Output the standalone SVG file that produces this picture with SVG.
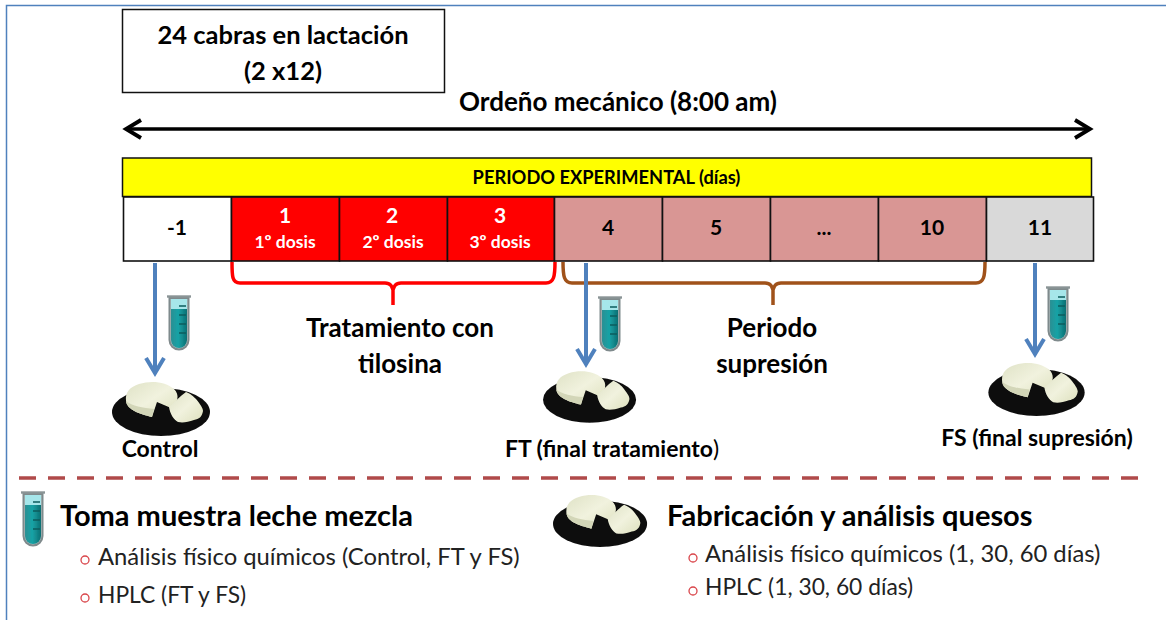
<svg xmlns="http://www.w3.org/2000/svg" xmlns:xlink="http://www.w3.org/1999/xlink" width="1166" height="620" viewBox="0 0 1166 620">
<style>
text{font-family:"Lato","Liberation Sans",sans-serif;fill:#000}
.b{font-weight:700}
.m{text-anchor:middle}
.h{font-size:26px}
.c{stroke:#111;stroke-width:1.6}
.n{font-size:21px;font-weight:700;text-anchor:middle}
.nw{font-size:21px;font-weight:700;text-anchor:middle;fill:#fff}
.d{font-size:17.500px;font-weight:700;text-anchor:middle;fill:#fff}
.l{font-size:23.800px;fill:#222}
.l2{font-size:22.800px;fill:#222}
.o{fill:none;stroke:#d9454a;stroke-width:1.3}
.arr{fill:none;stroke:#4f81bd;stroke-width:4}
.lab{font-size:23px;font-weight:700;text-anchor:middle}
</style>
<defs>
<linearGradient id="liq" x1="0" x2="1" y1="0" y2="0"><stop offset="0" stop-color="#2b8f93"/><stop offset=".45" stop-color="#17a3a6"/><stop offset="1" stop-color="#0d6f72"/></linearGradient>
<linearGradient id="chz" x1="0" x2="1" y1="0" y2="1"><stop offset="0" stop-color="#dfe2c6"/><stop offset=".5" stop-color="#f1f2de"/><stop offset="1" stop-color="#dde0bd"/></linearGradient>
<filter id="soft" x="-5%" y="-5%" width="110%" height="110%"><feGaussianBlur stdDeviation="0.500"/></filter>
<symbol id="tube" viewBox="0 0 24 57" overflow="visible">
<g filter="url(#soft)">
<path d="M2.5 3H21.500V45a9.500 9.500 0 0 1-19 0Z" fill="#b9c6c7" stroke="#7f8a8c" stroke-width="2"/>
<path d="M4 4H20V14H4Z" fill="#a6e6ea"/>
<path d="M4 14H20V45a8 8 0 0 1-16 0Z" fill="url(#liq)"/>
<path d="M0 1.500H24" stroke="#8a9496" stroke-width="2.400"/>
<path d="M12 11h7M12 20h7M12 29h7M12 38h7" stroke="#0e5c5e" stroke-width="1.500"/>
</g>
</symbol>
<symbol id="cheese" viewBox="0 0 100 56" overflow="visible">
<g filter="url(#soft)">
<ellipse cx="49" cy="31" rx="49" ry="24" fill="#0b0b0b"/>
<path d="M14 20C13 11 18 6 27 3C40-1 54 1 62 8C68 14 66 22 59 27L45 21L40 36C28 33 15 29 14 20Z" fill="url(#chz)"/>
<path d="M14 20C15 29 28 33 40 36L42 28C31 27 20 25 14 20Z" fill="#d3d6b8"/>
<path d="M57 26C62 22 68 15 74 11C79 13 81 15 84 18C88 23 91 27 91 30C90 36 87 38 82 39C76 41 71 42 66 41C62 39 58 33 57 26Z" fill="url(#chz)"/>
</g>
</symbol>
</defs>
<rect id="frame" x="6.500" y="5.500" width="1170" height="630" fill="#fff" stroke="#4f81bd" stroke-width="1.500"/>

<g id="connectors" fill="none">
<g id="milking">
<path d="M126 129H1088" stroke="#000" stroke-width="3.600"/>
<path d="M141 120L126 129L141 138M1075 120L1090 129L1075 138" stroke="#000" stroke-width="3.800"/>
</g>
<path id="brace-red" d="M232 262C232 276 232 283 240 283H385C391 283 392 287 393 290V305M393 290C394 287 395 283 401 283H546C554 283 555 276 555 262" stroke="#ff0000" stroke-width="3.500"/>
<path id="brace-brown" d="M563 262C563 276 564 283 572 283H765C771 283 772 287 773 290V305M773 290C774 287 775 283 781 283H976C984 283 985 276 985 262" stroke="#a0521a" stroke-width="3.500"/>
<g id="arrows" class="arr">
<path d="M155 263V371M146 358L155 373L164 358"/>
<path d="M586 263V362M577 349L586 364L595 349"/>
<path d="M1035 263V352M1026 339L1035 354L1044 339"/>
</g>
<path id="separator" d="M19 478H1140" stroke="#b04a4a" stroke-width="3.500" stroke-dasharray="17 12"/>
</g>

<g id="node-cabras">
<rect x="122.500" y="9.500" width="322" height="83" fill="#fff" stroke="#111" stroke-width="1.500"/>
<text class="b m" font-size="25.500" x="283" y="44">24 cabras en lactación</text>
<text class="b m" font-size="25.500" x="283" y="80">(2 x12)</text>
</g>
<text id="label-ordeno" class="b m" font-size="26" x="618" y="111">Ordeño mecánico (8:00 am)</text>

<g id="node-periodo">
<rect x="122.500" y="158" width="969" height="38.500" fill="#ffff00" stroke="#111" stroke-width="1.500"/>
<text class="b m" font-size="18.300" x="606.500" y="184">PERIODO EXPERIMENTAL (días)</text>
</g>

<g id="day--1"><rect class="c" x="123.500" y="197" width="108" height="64" fill="#fff"/><text class="n" x="177" y="235">-1</text></g>
<g id="day-1"><rect class="c" x="231.500" y="197" width="108" height="64" fill="#ff0000"/><text class="nw" x="285" y="223">1</text><text class="d" x="285" y="248">1º dosis</text></g>
<g id="day-2"><rect class="c" x="339.500" y="197" width="108" height="64" fill="#ff0000"/><text class="nw" x="392" y="223">2</text><text class="d" x="393" y="248">2º dosis</text></g>
<g id="day-3"><rect class="c" x="447.500" y="197" width="107" height="64" fill="#ff0000"/><text class="nw" x="500" y="223">3</text><text class="d" x="500" y="248">3º dosis</text></g>
<g id="day-4"><rect class="c" x="554.500" y="197" width="108" height="64" fill="#d99694"/><text class="n" x="608" y="235">4</text></g>
<g id="day-5"><rect class="c" x="662.500" y="197" width="108" height="64" fill="#d99694"/><text class="n" x="716" y="235">5</text></g>
<g id="day-dots"><rect class="c" x="770.500" y="197" width="108" height="64" fill="#d99694"/><text class="n" x="824" y="235">...</text></g>
<g id="day-10"><rect class="c" x="878.500" y="197" width="108" height="64" fill="#d99694"/><text class="n" x="932" y="235">10</text></g>
<g id="day-11"><rect class="c" x="986.500" y="197" width="107" height="64" fill="#d9d9d9"/><text class="n" x="1040" y="235">11</text></g>

<g id="label-tratamiento"><text class="b m h" x="400" y="337">Tratamiento con</text><text class="b m h" x="400" y="373">tilosina</text></g>
<g id="label-supresion"><text class="b m h" x="772" y="337">Periodo</text><text class="b m h" x="772" y="373">supresión</text></g>

<g id="sample-control">
<use xlink:href="#tube" href="#tube" x="167" y="295" width="24" height="57"/>
<use xlink:href="#cheese" href="#cheese" x="112" y="381" width="100" height="56"/>
<text class="lab" x="160" y="457">Control</text>
</g>
<g id="sample-ft">
<use xlink:href="#tube" href="#tube" x="598" y="296" width="24" height="57"/>
<use xlink:href="#cheese" href="#cheese" x="543" y="370" width="95" height="54"/>
<text class="lab" x="612" y="457">FT (final tratamiento<tspan font-weight="400">)</tspan></text>
</g>
<g id="sample-fs">
<use xlink:href="#tube" href="#tube" x="1046" y="286" width="24" height="57"/>
<use xlink:href="#cheese" href="#cheese" x="985" y="362" width="105" height="55"/>
<text class="lab" x="1037" y="446">FS (final supresión)</text>
</g>

<g id="legend-muestra">
<use xlink:href="#tube" href="#tube" x="21" y="491" width="24" height="57"/>
<text class="b" font-size="29" x="60" y="526">Toma muestra leche mezcla</text>
<circle class="o" cx="85" cy="560" r="4"/>
<text class="l" x="98" y="565">Análisis físico químicos (Control, FT y FS)</text>
<circle class="o" cx="85" cy="598" r="4"/>
<text class="l2" x="98" y="603">HPLC (FT y FS)</text>
</g>
<g id="legend-quesos">
<use xlink:href="#cheese" href="#cheese" x="553" y="494" width="96" height="54"/>
<text class="b" font-size="29" x="667" y="526">Fabricación y análisis quesos</text>
<circle class="o" cx="693" cy="558" r="4"/>
<text class="l" x="705" y="562">Análisis físico químicos (1, 30, 60 días)</text>
<circle class="o" cx="693" cy="591" r="4"/>
<text class="l2" x="705" y="595">HPLC (1, 30, 60 días)</text>
</g>
</svg>
